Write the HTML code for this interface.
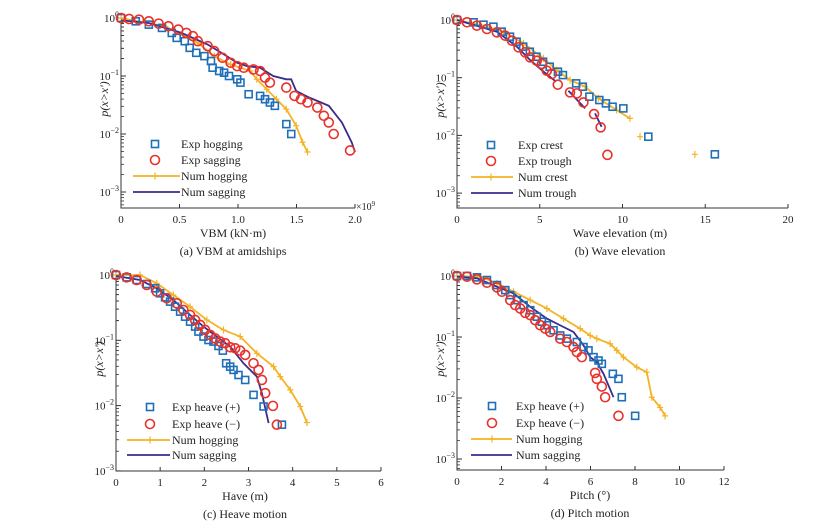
<!DOCTYPE html>
<html><head><meta charset="utf-8"><style>
html,body{margin:0;padding:0;background:#fff;}
svg text{font-family:"Liberation Serif",serif;fill:#222;}
</style></head><body>
<svg id="fig" width="819" height="527" viewBox="0 0 819 527" xmlns="http://www.w3.org/2000/svg"></svg>
<script>
// ---- Panel (a) VBM ----
const aHogX=[0,.126,.238,.35,.434,.476,.545,.587,.643,.713,.769,.783,.839,.881,.923,.993,1.021,1.091,1.189,1.231,1.273,1.315,1.413,1.455];
const aHogP=[1,.877,.769,.675,.553,.454,.398,.306,.251,.22,.181,.139,.122,.114,.1,.0877,.0769,.0485,.0454,.0398,.0349,.0306,.0148,.01];
const aSagX=[0,.07,.154,.238,.322,.406,.49,.559,.615,.657,.741,.797,.867,.937,.993,1.049,1.133,1.189,1.231,1.273,1.413,1.483,1.538,1.594,1.678,1.734,1.776,1.818,1.958];
const aSagP=[1,.962,.936,.877,.8,.719,.631,.553,.485,.398,.327,.269,.206,.169,.148,.139,.13,.122,.0935,.0769,.0631,.0454,.0398,.0349,.0286,.0206,.0158,.01,.0052];
const aNumHogX=[0,.378,.657,.797,.937,1.021,1.105,1.161,1.245,1.329,1.413,1.497,1.552,1.594];
const aNumHogP=[1,.719,.372,.22,.158,.139,.122,.0877,.059,.0398,.0268,.0139,.0072,.0049];
const aNumSagX=[0,.238,.517,.741,.881,.993,1.077,1.189,1.301,1.413,1.455,1.497,1.608,1.776,1.888,1.972,2.0];
const aNumSagP=[.912,.82,.553,.349,.235,.169,.148,.139,.1,.0877,.0877,.0553,.0426,.0306,.0158,.0072,.0049];
const aXTicks=[0,0.5,1.0,1.5,2.0];
const aXTickLabels=["0","0.5","1.0","1.5","2.0"];
// ---- Panel (b) Wave elevation ----
const bCrestX=[0,1.0,1.6,2.2,2.7,3.2,3.6,4.0,4.4,4.8,5.2,5.6,6.1,6.4,7.2,7.6,8.0,8.6,9.0,9.4,10.05,11.56,15.58];
const bCrestP=[1,.912,.83,.766,.628,.514,.421,.345,.282,.231,.189,.155,.127,.111,.0798,.0698,.0469,.041,.0359,.0314,.0294,.0095,.0047];
const bTroughX=[0,.6,1.2,1.81,2.41,2.91,3.32,3.72,4.12,4.42,4.82,5.13,5.43,5.73,6.09,6.83,7.24,7.64,8.28,8.68,9.09];
const bTroughP=[1,.912,.798,.698,.611,.535,.438,.336,.275,.225,.197,.173,.132,.116,.0757,.0557,.0535,.0373,.0234,.0138,.0046];
const bNumCrestX=[0,1.41,2.81,4.02,5.23,6.03,6.83,7.74,8.54,9.65,10.45,null,11.06,null,14.37];
const bNumCrestP=[1,.818,.628,.394,.216,.136,.0912,.0698,.0439,.0275,.0197,null,.0095,null,.0047];
const bNumTroughX=[0,2.41,3.62,4.42,5.23,5.99,null,6.73,7.74,null,8.34,8.74];
const bNumTroughP=[1,.628,.345,.202,.127,.0853,null,.0596,.0294,null,.0241,.0141];
const bXTicks=[0,5,10,15,20];
const bXTickLabels=["0","5","10","15","20"];
// ---- Panel (c) Heave ----
const cPlusX=[0,.242,.469,.696,.885,.998,1.111,1.225,1.338,1.452,1.565,1.678,1.792,1.867,1.981,2.094,2.208,2.32,2.419,2.494,2.585,2.661,2.774,2.925,3.114,3.341,3.757];
const cPlusP=[1,.92,.838,.728,.625,.524,.455,.391,.327,.275,.23,.193,.162,.136,.114,.101,.0955,.0818,.0695,.0445,.0395,.0352,.0294,.0247,.0146,.0097,.0051];
const cMinusX=[0,.242,.469,.696,.923,1.149,1.376,1.527,1.678,1.792,1.905,2.018,2.132,2.245,2.358,2.472,2.585,2.698,2.812,2.925,3.114,3.228,3.303,3.379,3.553,3.643];
const cMinusP=[1,.92,.838,.703,.556,.44,.368,.291,.244,.205,.172,.144,.121,.107,.0955,.09,.0782,.0755,.0695,.0597,.0445,.0352,.0247,.0155,.0099,.0051];
const cNumHogX=[0,.544,.922,1.3,1.678,2.056,2.434,2.812,3.19,3.568,3.719,3.945,4.172,4.323];
const cNumHogP=[1,1,.745,.494,.327,.205,.144,.114,.0632,.0395,.0278,.0174,.0097,.0055];
const cNumSagX=[0,.544,.922,1.3,1.678,1.981,2.283,2.585,2.887,3.19,3.303,3.454];
const cNumSagP=[.966,.838,.625,.414,.244,.162,.114,.08,.0445,.0278,.0155,.0054];
const cXTicks=[0,1,2,3,4,5,6];
const cXTickLabels=["0","1","2","3","4","5","6"];
// ---- Panel (d) Pitch ----
const dPlusX=[0,.449,.898,1.347,1.796,2.17,2.394,2.693,2.993,3.292,3.591,3.815,4.04,4.339,4.638,4.937,5.386,5.685,5.91,6.135,6.359,6.509,7.003,7.257,7.407,8.006];
const dPlusP=[1,1,.95,.859,.711,.587,.486,.402,.333,.275,.215,.178,.156,.129,.106,.0939,.0828,.0684,.0603,.0468,.0412,.0363,.0249,.0206,.0103,.0051];
const dMinusX=[0,.449,.898,1.347,1.796,2.02,2.394,2.619,2.843,3.068,3.292,3.517,3.741,3.965,4.189,4.638,4.938,5.237,5.386,5.611,6.21,6.284,6.509,6.659,7.257];
const dMinusP=[1,.975,.881,.776,.65,.552,.402,.333,.293,.249,.228,.188,.156,.137,.121,.0939,.0828,.0684,.0567,.0468,.0258,.0206,.0154,.0103,.0051];
const dNumHogX=[0,1.047,1.796,2.544,3.292,4.04,4.788,5.536,5.985,6.284,6.883,7.182,7.481,8.08,8.529,8.754,9.128,9.352];
const dNumHogP=[1,.975,.757,.552,.402,.293,.2,.137,.106,.0939,.0776,.0603,.0468,.032,.0265,.0103,.007,.0051];
const dNumSagX=[0,.898,1.796,2.544,3.292,4.04,4.788,5.237,5.685,5.985,6.284,6.584,7.033];
const dNumSagP=[.975,.917,.667,.518,.313,.2,.146,.121,.073,.0468,.0387,.0249,.0103];
const dXTicks=[0,2,4,6,8,10,12];
const dXTickLabels=["0","2","4","6","8","10","12"];

const BLUE="#1f6fb8",RED="#e8322b",YEL="#f4b324",PUR="#3a2c8c";
const NS="http://www.w3.org/2000/svg";
const svg=document.getElementById('fig');
function mk(tag,attrs,parent){const e=document.createElementNS(NS,tag);for(const k in attrs)e.setAttribute(k,attrs[k]);(parent||svg).appendChild(e);return e;}

function panel(cfg){
  const g=mk('g',{});
  
  
  const xs=v=>cfg.x0+(v-cfg.xmin)/(cfg.xmax-cfg.xmin)*(cfg.x1-cfg.x0);
  const ys=p=>cfg.y0-Math.log10(p)*cfg.dec;
  const top=cfg.y0-4;
  // axes
  const ax=mk('path',{d:`M${cfg.x0},${top}V${cfg.bot}H${cfg.x1}`,stroke:'#333','stroke-width':1,fill:'none'},g);
  
  
  // y ticks
  for(let e=0;e>=-3;e--){
    const y=ys(Math.pow(10,e));
    if(y<=cfg.bot+0.5){
      mk('line',{x1:cfg.x0,x2:cfg.x0+5,y1:y,y2:y,stroke:'#333'},g);
      const t=mk('text',{x:cfg.x0-2,y:y+4,'font-size':11,'text-anchor':'end'},g);
      
      
      t.textContent='10';
      const s=mk('tspan',{dy:-5,'font-size':8},t);s.textContent=(e===0?'0':'\u2212'+(-e));
    }
    if(e>-3||cfg.bot>ys(0.001)+1){
      for(let m=2;m<=9;m++){const yy=ys(m*Math.pow(10,e-1));if(yy<=cfg.bot&&yy>=top)mk('line',{x1:cfg.x0,x2:cfg.x0+3,y1:yy,y2:yy,stroke:'#333','stroke-width':0.8},g);}
    }
  }
  for(let m=2;m<=9;m++){const yy=ys(m*0.1);mk('line',{x1:cfg.x0,x2:cfg.x0+3,y1:yy,y2:yy,stroke:'#333','stroke-width':0.8},g);}
  // x ticks
  cfg.xt.forEach((v,i)=>{
    const x=xs(v);
    mk('line',{x1:x,x2:x,y1:cfg.bot,y2:cfg.bot-4,stroke:'#333'},g);
    const t=mk('text',{x:x,y:cfg.bot+15,'font-size':11,'text-anchor':'middle'},g);
    
    
    t.textContent=cfg.xl[i];
  });
  // labels
  const yl=mk('text',{x:0,y:0,'font-size':12,'font-style':'italic','text-anchor':'middle',transform:`translate(${cfg.x0-13},${(top+cfg.bot)/2-12}) rotate(-90)`},g);
  
  
  yl.textContent="p(x>x')";
  const xl=mk('text',{x:cfg.xlabX,y:cfg.bot+29,'font-size':12,'text-anchor':'middle'},g);
  
  
  xl.textContent=cfg.xlabel;
  const cap=mk('text',{x:cfg.xlabX,y:cfg.bot+47,'font-size':12,'text-anchor':'middle'},g);
  
  
  cap.textContent=cfg.caption;
  // series
  function line(X,P,col,cross,name){
    let d='',pen=false;
    X.forEach((v,i)=>{if(v===null){pen=false;return;}d+=(pen?'L':'M')+xs(v).toFixed(1)+','+ys(P[i]).toFixed(1);pen=true;});
    const p=mk('path',{d:d,stroke:col,'stroke-width':1.8,fill:'none'},g);
    
    
    if(cross){X.forEach((v,i)=>{if(v===null)return;const x=xs(v),y=ys(P[i]);
      const c=mk('path',{d:`M${x-3},${y}H${x+3}M${x},${y-3.5}V${y+3.5}`,stroke:col,'stroke-width':1.2},g);
      
      });}
  }
  function sq(X,P,name){X.forEach((v,i)=>{const r=mk('rect',{x:xs(v)-3.5,y:ys(P[i])-3.5,width:7,height:7,fill:'none',stroke:BLUE,'stroke-width':1.6},g);
    
    });}
  function ci(X,P,name){X.forEach((v,i)=>{const c=mk('circle',{cx:xs(v),cy:ys(P[i]),r:4.5,fill:'none',stroke:RED,'stroke-width':1.6},g);
    
    });}
  line(cfg.s[4],cfg.s[5],YEL,true,'num-series-1-line');
  line(cfg.s[6],cfg.s[7],PUR,false,'num-series-2-line');
  sq(cfg.s[0],cfg.s[1],'exp-series-1-point');
  ci(cfg.s[2],cfg.s[3],'exp-series-2-point');
  // legend
  const lg=mk('g',{},g);
  
  
  const L=cfg.leg;
  mk('rect',{x:L.mx-3.5,y:L.y[0]-3.5,width:7,height:7,fill:'none',stroke:BLUE,'stroke-width':1.6},lg);
  mk('circle',{cx:L.mx,cy:L.y[1],r:4.5,fill:'none',stroke:RED,'stroke-width':1.6},lg);
  mk('line',{x1:L.lx0,x2:L.lx1,y1:L.y[2],y2:L.y[2],stroke:YEL,'stroke-width':1.8},lg);
  mk('path',{d:`M${L.mx-3},${L.y[2]}H${L.mx+3}M${L.mx},${L.y[2]-3.5}V${L.y[2]+3.5}`,stroke:YEL,'stroke-width':1.2},lg);
  mk('line',{x1:L.lx0,x2:L.lx1,y1:L.y[3],y2:L.y[3],stroke:PUR,'stroke-width':1.8},lg);
  L.t.forEach((s,i)=>{const t=mk('text',{x:L.tx,y:L.y[i]+4,'font-size':12},lg);
    
    
    t.textContent=s;});
  return {g,xs,ys};
}

const A=panel({name:'panel-a-vbm',x0:121,x1:355,xmin:0,xmax:2,y0:18,dec:58,bot:208,xt:aXTicks,xl:aXTickLabels,xlabel:'VBM (kN·m)',caption:'(a) VBM at amidships',xlabX:233,
  s:[aHogX,aHogP,aSagX,aSagP,aNumHogX,aNumHogP,aNumSagX,aNumSagP],
  leg:{mx:155,tx:181,lx0:133,lx1:180,y:[144,160,176,192],t:['Exp hogging','Exp sagging','Num hogging','Num sagging']}});
const ex=mk('text',{x:356,y:210,'font-size':10});


ex.textContent='×10';
const ext=mk('tspan',{dy:-4,'font-size':7},ex);ext.textContent='9';

panel({name:'panel-b-wave',x0:457,x1:788,xmin:0,xmax:20,y0:20,dec:57.7,bot:208,xt:bXTicks,xl:bXTickLabels,xlabel:'Wave elevation (m)',caption:'(b) Wave elevation',xlabX:620,
  s:[bCrestX,bCrestP,bTroughX,bTroughP,bNumCrestX,bNumCrestP,bNumTroughX,bNumTroughP],
  leg:{mx:491,tx:518,lx0:471,lx1:513,y:[145,161,177,193],t:['Exp crest','Exp trough','Num crest','Num trough']}});

panel({name:'panel-c-heave',x0:116,x1:381,xmin:0,xmax:6,y0:275,dec:65.3,bot:471,xt:cXTicks,xl:cXTickLabels,xlabel:'Have (m)',caption:'(c) Heave motion',xlabX:245,
  s:[cPlusX,cPlusP,cMinusX,cMinusP,cNumHogX,cNumHogP,cNumSagX,cNumSagP],
  leg:{mx:150,tx:172,lx0:127,lx1:170,y:[407,424,440,455],t:['Exp heave (+)','Exp heave (\u2212)','Num hogging','Num sagging']}});

panel({name:'panel-d-pitch',x0:457,x1:724,xmin:0,xmax:12,y0:276,dec:61,bot:470,xt:dXTicks,xl:dXTickLabels,xlabel:'Pitch (°)',caption:'(d) Pitch motion',xlabX:590,
  s:[dPlusX,dPlusP,dMinusX,dMinusP,dNumHogX,dNumHogP,dNumSagX,dNumSagP],
  leg:{mx:492,tx:516,lx0:471,lx1:512,y:[406,423,439,455],t:['Exp heave (+)','Exp heave (\u2212)','Num hogging','Num sagging']}});
</script>
</body></html>
